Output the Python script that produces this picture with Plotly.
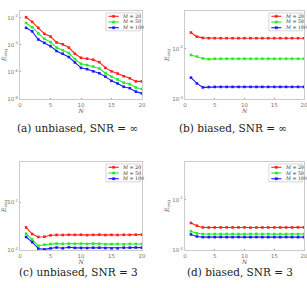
import plotly.graph_objects as go

N = list(range(1, 21))

# (a) unbiased, SNR = inf
a_m20 = [1.1e-2, 5.0e-3, 1.8e-3, 6.5e-4, 4.1e-4, 1.5e-4, 1.1e-4, 6.3e-5, 2.2e-5, 1.1e-5,
         9.5e-6, 8.0e-6, 5.3e-6, 2.0e-6, 1.1e-6, 7.6e-7, 4.8e-7, 3.4e-7, 2.0e-7, 2.0e-7]
a_m50 = [4.1e-3, 2.0e-3, 7.0e-4, 2.8e-4, 1.6e-4, 6.3e-5, 4.0e-5, 2.5e-5, 8.9e-6, 4.0e-6,
         3.2e-6, 2.5e-6, 1.8e-6, 8.0e-7, 4.5e-7, 2.8e-7, 1.6e-7, 1.26e-7, 7.0e-8, 5.5e-8]
a_m100 = [1.8e-3, 1.0e-3, 2.5e-4, 1.4e-4, 8.0e-5, 3.5e-5, 2.2e-5, 1.26e-5, 5.0e-6, 2.0e-6,
          1.6e-6, 1.1e-6, 8.0e-7, 4.5e-7, 2.2e-7, 1.4e-7, 8.0e-8, 6.3e-8, 3.5e-8, 2.6e-8]

# (b) biased, SNR = inf
b_m20 = [0.021, 0.0174, 0.0164, 0.0162, 0.0162, 0.0162, 0.0162, 0.0162, 0.0162, 0.0162,
         0.0162, 0.0162, 0.0162, 0.0162, 0.0162, 0.0162, 0.0162, 0.0162, 0.0162, 0.0162]
b_m50 = [0.0075, 0.0070, 0.0064, 0.0062, 0.0063, 0.0063, 0.0063, 0.0063, 0.0063, 0.0063,
         0.0063, 0.0063, 0.0063, 0.0063, 0.0063, 0.0063, 0.0063, 0.0063, 0.0063, 0.0063]
b_m100 = [0.00266, 0.00204, 0.00170, 0.00173, 0.00174, 0.00174, 0.00174, 0.00174, 0.00174, 0.00174,
          0.00174, 0.00174, 0.00174, 0.00174, 0.00174, 0.00174, 0.00174, 0.00174, 0.00174, 0.00174]

# (c) unbiased, SNR = 3
c_m20 = [0.0298, 0.0217, 0.0188, 0.0190, 0.0204, 0.0208, 0.0207, 0.0209, 0.0208, 0.0209,
         0.0205, 0.0208, 0.0210, 0.0206, 0.0208, 0.0207, 0.0209, 0.0208, 0.0210, 0.0210]
c_m50 = [0.0220, 0.0166, 0.0123, 0.0129, 0.0134, 0.0136, 0.0135, 0.0136, 0.0135, 0.0136,
         0.0134, 0.0136, 0.0135, 0.0132, 0.0133, 0.0134, 0.0132, 0.0134, 0.0134, 0.0134]
c_m100 = [0.0188, 0.0146, 0.0107, 0.0103, 0.0108, 0.0113, 0.0109, 0.0114, 0.0111, 0.0111,
          0.0110, 0.0112, 0.0112, 0.0110, 0.0108, 0.0109, 0.0112, 0.0112, 0.0113, 0.0112]

# (d) biased, SNR = 3
d_m20 = [0.0345, 0.0304, 0.0281, 0.0280, 0.0281, 0.0281, 0.0282, 0.0281, 0.0282, 0.0282,
         0.0278, 0.0280, 0.0281, 0.0281, 0.0281, 0.0281, 0.0281, 0.0281, 0.0282, 0.0282]
d_m50 = [0.0236, 0.0214, 0.0208, 0.0207, 0.0208, 0.0208, 0.0208, 0.0208, 0.0208, 0.0207,
         0.0208, 0.0210, 0.0208, 0.0208, 0.0207, 0.0208, 0.0208, 0.0207, 0.0207, 0.0208]
d_m100 = [0.0204, 0.0186, 0.0180, 0.0180, 0.0180, 0.0181, 0.0180, 0.0180, 0.0181, 0.0180,
          0.0180, 0.0181, 0.0180, 0.0180, 0.0180, 0.0180, 0.0181, 0.0180, 0.0180, 0.0180]

series_names = ["<i>M</i> = 20", "<i>M</i> = 50", "<i>M</i> = 100"]
colors = ["#ff2020", "#22ee22", "#1a1aff"]
captions = ["(a) unbiased, SNR = ∞", "(b) biased, SNR = ∞",
            "(c) unbiased, SNR = 3", "(d) biased, SNR = 3"]

panels = [
    (a_m20, a_m50, a_m100),
    (b_m20, b_m50, b_m100),
    (c_m20, c_m50, c_m100),
    (d_m20, d_m50, d_m100),
]
y_ticks = [
    ([1e-8, 1e-6, 1e-4, 1e-2], ["10<sup>-8</sup>", "10<sup>-6</sup>", "10<sup>-4</sup>", "10<sup>-2</sup>"], [-8, -1.5]),
    ([1e-3, 1e-2], ["10<sup>-3</sup>", "10<sup>-2</sup>"], [-3, -1.25]),
    ([1e-2, 1e-1], ["10<sup>-2</sup>", "10<sup>-1</sup>"], [-2, -0.15]),
    ([1e-2, 1e-1], ["10<sup>-2</sup>", "10<sup>-1</sup>"], [-2, -0.25]),
]

W, H = 307, 288
xdom = [[20 / W, 142 / W], [185 / W, 304 / W]]
ydom = [[1 - 99 / H, 1 - 11 / H], [1 - 250 / H, 1 - 162 / H]]
cap_pos = [(77 / W, 1 - 128 / H), (233 / W, 1 - 128 / H),
           (78 / W, 1 - 272 / H), (240 / W, 1 - 272 / H)]

fig = go.Figure()
layout = dict(width=W, height=H, margin=dict(l=0, r=0, t=0, b=0),
              paper_bgcolor="white", plot_bgcolor="white", showlegend=False)
annotations = []
shapes = []
tickfont = dict(family="DejaVu Sans", size=5.5, color="#777777")

for p in range(4):
    row, col = divmod(p, 2)
    ax = "" if p == 0 else str(p + 1)
    xa, ya = "x" + ax, "y" + ax
    for s in range(3):
        fig.add_trace(go.Scatter(
            x=N, y=panels[p][s], xaxis=xa, yaxis=ya, mode="lines+markers",
            line=dict(color=colors[s], width=1.1),
            marker=dict(color=colors[s], size=2.6, symbol="square"),
            name=series_names[s]))
    tv, tt, rng = y_ticks[p]
    layout["xaxis" + ax] = dict(
        domain=xdom[col], anchor=ya, range=[0, 20], tickvals=[0, 5, 10, 15, 20],
        ticks="inside", ticklen=1.5, tickcolor="#999", tickwidth=0.6,
        showline=True, linecolor="#cccccc", linewidth=0.8, mirror=True,
        showgrid=False, zeroline=False, tickfont=tickfont, ticklabeloverflow="allow",
        title=dict(text="<i>N</i>", font=dict(family="DejaVu Serif", size=6, color="#555"), standoff=0),
        automargin=False)
    layout["yaxis" + ax] = dict(
        domain=ydom[row], anchor=xa, type="log", range=rng, tickvals=tv, ticktext=tt,
        ticks="inside", ticklen=1.5, tickcolor="#999", tickwidth=0.6,
        showline=True, linecolor="#cccccc", linewidth=0.8, mirror=True,
        showgrid=False, zeroline=False, tickfont=tickfont, ticklabeloverflow="allow",
        title=dict(text="<i>E</i><sub>avg</sub>", font=dict(family="DejaVu Serif", size=6, color="#555"), standoff=2),
        automargin=False)
    # caption
    cx, cy = cap_pos[p]
    annotations.append(dict(x=cx, y=cy, xref="paper", yref="paper", text=captions[p],
                            showarrow=False, xanchor="center", yanchor="middle",
                            font=dict(family="DejaVu Serif", size=10.5, color="#222")))
    # legend box
    xd = "x" + ("" if p == 0 else str(p + 1)) + " domain"
    yd = "y" + ("" if p == 0 else str(p + 1)) + " domain"
    shapes.append(dict(type="rect", xref=xd, yref=yd, x0=0.705, x1=0.985, y0=0.775, y1=0.978,
                       line=dict(color="#bbbbbb", width=0.6), fillcolor="white", layer="above"))
    for s in range(3):
        yy = 0.94 - s * 0.065
        shapes.append(dict(type="line", xref=xd, yref=yd, x0=0.725, x1=0.81, y0=yy, y1=yy,
                           line=dict(color=colors[s], width=1.1), layer="above"))
        shapes.append(dict(type="rect", xref=xd, yref=yd, x0=0.7575, x1=0.7775,
                           y0=yy - 0.012, y1=yy + 0.012,
                           line=dict(color=colors[s], width=0.5), fillcolor=colors[s], layer="above"))
        annotations.append(dict(x=0.82, y=yy, xref=xd, yref=yd, text=series_names[s],
                                showarrow=False, xanchor="left", yanchor="middle",
                                font=dict(family="DejaVu Serif", size=4.8, color="#333")))

layout["annotations"] = annotations
layout["shapes"] = shapes
fig.update_layout(**layout)
fig.write_html("out.html")
